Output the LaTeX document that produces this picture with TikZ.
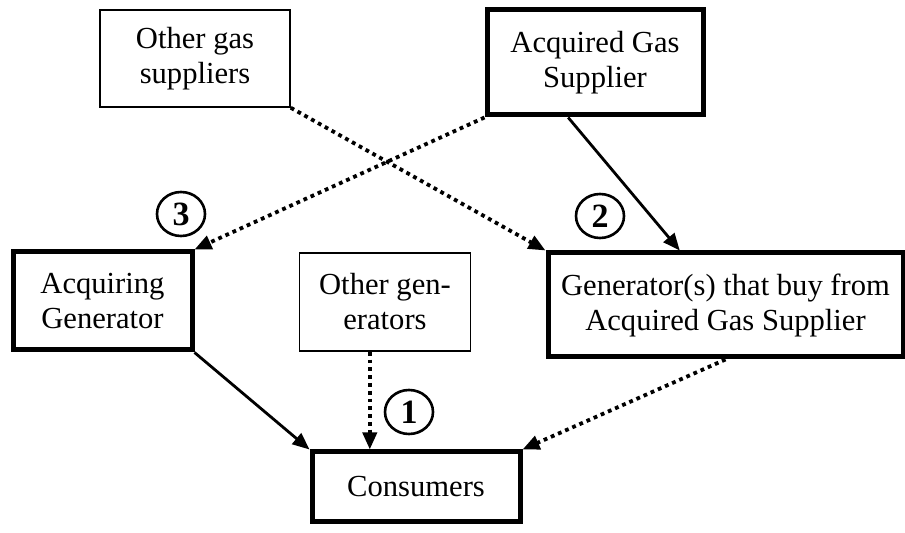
\documentclass[tikz,border=0pt]{standalone}
\usepackage{fontspec}
\setmainfont{Liberation Serif}
\usetikzlibrary{arrows.meta,positioning,shapes.geometric}

\begin{document}
\begin{tikzpicture} [x=0.5pt, y=-0.5pt,
	box/.style={draw, rectangle, align=center, font=\fontsize{15.3}{17.5}\selectfont},
	thinbox/.style={box, line width=0.75pt},
	thickbox/.style={box, line width=2.5pt},
	tag/.style={draw, ellipse, line width=1.3pt, minimum width=24pt, minimum height=22pt, inner sep=0pt, font=\fontsize{17}{17.5}\selectfont\bfseries},
	flow/.style={line width=1.4pt, -{Triangle[length=8.5pt,width=7pt]}},
	side/.style={line width=1.9pt, dotted, -{Triangle[length=8.5pt,width=7pt]}}]
	\useasboundingbox (0,0) rectangle (905,533);

	% suppliers
	\node (ogs) [thinbox, minimum width=95pt, minimum height=48.5pt] at (195,58.5) {Other gas\\suppliers};
	\node (ags) [thickbox, minimum width=108pt, minimum height=52.5pt, right of=ogs, node distance=200pt, yshift=-2pt] {Acquired Gas\\Supplier};

	% generators
	\node (acq) [thickbox, minimum width=89.5pt, minimum height=49pt] at (102.5,301) {Acquiring\\Generator};
	\node (ogen) [thinbox, minimum width=85.5pt, minimum height=49pt] at (385,302) {Other gen-\\erators};
	\node (gen) [thickbox, minimum width=177.5pt, minimum height=52pt] at (725.5,305) {Generator(s) that buy from\\Acquired Gas Supplier};

	% consumers
	\node (cons) [thickbox, minimum width=104pt, minimum height=35pt] at (416,487) {Consumers};

	% numbered tags
	\node (t3) [tag] at (181,214) {3};
	\node (t2) [tag] at (600,216) {2};
	\node (t1) [tag] at (409,412) {1};

	% connections
	\draw[side] (ogs.south east) -- (gen.north west);
	\draw[flow] (ags.244) -- (gen.130.6);
	\draw[side] (ags.south west) -- (acq.north east);
	\draw[flow] (acq.south east) -- (cons.north west);
	\draw[side] (ogen.253) -- (ogen.253 |- cons.north);
	\draw[side] (gen.south) -- (cons.north east);
\end{tikzpicture}
\end{document}
